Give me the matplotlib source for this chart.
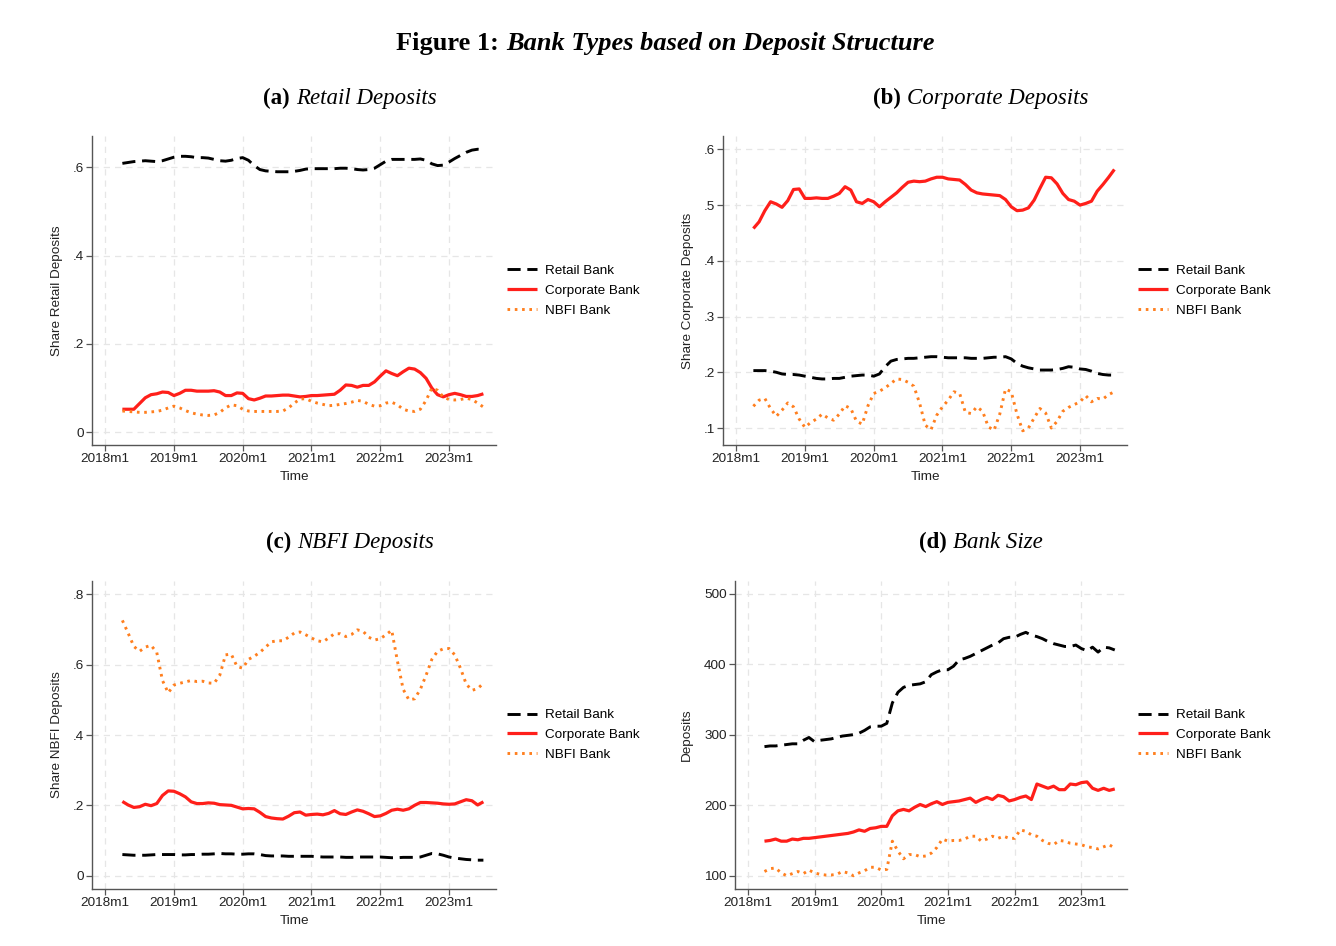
import matplotlib
matplotlib.use("Agg")
import matplotlib.pyplot as plt
import numpy as np

# months since 2018m1, data runs 2018m4 .. 2023m7
months = np.arange(3, 67)
tick_pos = [0, 12, 24, 36, 48, 60]
tick_lab = ["2018m1", "2019m1", "2020m1", "2021m1", "2022m1", "2023m1"]
series_names = ["Retail Bank", "Corporate Bank", "NBFI Bank"]

# (a) share retail deposits
retail_a = [.609, .611, .613, .614, .615, .614, .613, .615, .619,
            .623, .625, .625, .624, .622, .622, .621, .618, .615, .614, .616, .620,
            .622, .616, .604, .595, .592, .591, .590, .590, .590, .591, .593, .596,
            .597, .597, .597, .597, .597, .598, .598, .597, .595, .594, .595, .598,
            .606, .614, .618, .618, .618, .618, .618, .619, .616, .608, .604, .605,
            .612, .620, .627, .634, .639, .641, .640]
corp_a = [.052, .052, .052, .065, .078, .085, .087, .091, .090,
          .083, .088, .095, .095, .093, .093, .093, .094, .091, .083, .083, .089,
          .088, .076, .073, .077, .082, .082, .083, .084, .084, .082, .080, .081,
          .083, .083, .084, .085, .086, .095, .107, .106, .102, .106, .106, .114,
          .127, .139, .133, .128, .137, .145, .143, .135, .122, .100, .085, .080,
          .085, .088, .085, .081, .081, .083, .087]
nbfi_a = [.048, .047, .046, .045, .045, .046, .047, .050, .055,
          .059, .055, .049, .044, .041, .039, .038, .039, .045, .055, .062, .060,
          .052, .048, .047, .047, .047, .047, .047, .048, .055, .066, .075, .076,
          .070, .066, .063, .060, .061, .063, .065, .068, .072, .070, .063, .059,
          .060, .066, .068, .062, .052, .048, .047, .052, .072, .100, .095, .080,
          .074, .073, .074, .077, .074, .066, .057]

# (b) share corporate deposits
retail_b = [.203, .203, .203, .202, .200, .197, .196, .196, .195,
            .193, .191, .189, .188, .188, .189, .189, .191, .193, .194, .195, .195,
            .193, .197, .210, .220, .223, .224, .225, .225, .226, .227, .228, .228,
            .227, .226, .226, .226, .226, .225, .225, .225, .226, .227, .227, .228,
            .224, .216, .211, .208, .206, .204, .204, .204, .205, .207, .210, .209,
            .206, .205, .202, .198, .196, .195, .195]
corp_b = [.458, .470, .490, .506, .502, .496, .508, .528, .529,
          .512, .512, .513, .512, .512, .516, .521, .533, .527, .506, .503, .510,
          .506, .497, .506, .514, .522, .532, .541, .543, .542, .543, .547, .550,
          .550, .547, .546, .545, .537, .527, .522, .520, .519, .518, .517, .510,
          .497, .490, .491, .495, .509, .530, .550, .549, .538, .521, .510, .507,
          .500, .503, .507, .525, .537, .550, .564]
nbfi_b = [.139, .150, .153, .135, .121, .132, .145, .138, .116,
          .101, .110, .116, .125, .118, .114, .125, .140, .135, .112, .107, .140,
          .162, .166, .172, .180, .188, .187, .182, .175, .145, .105, .097, .123,
          .138, .150, .165, .162, .128, .126, .138, .130, .102, .096, .125, .170,
          .165, .125, .095, .100, .118, .135, .127, .100, .112, .130, .137, .142,
          .147, .158, .147, .153, .152, .160, .165]

# (c) share NBFI deposits
retail_c = [.060, .059, .058, .058, .058, .059, .060, .060, .060,
            .060, .059, .059, .060, .060, .061, .061, .062, .063, .062, .062, .061,
            .061, .062, .062, .060, .057, .056, .056, .056, .055, .055, .055, .055,
            .055, .054, .053, .053, .053, .053, .052, .052, .053, .053, .053, .053,
            .053, .052, .051, .051, .052, .052, .052, .053, .058, .063, .062, .058,
            .053, .050, .048, .046, .045, .044, .044]
corp_c = [.211, .201, .194, .196, .203, .199, .205, .228, .241,
          .240, .233, .224, .210, .205, .205, .207, .206, .202, .201, .200, .195,
          .190, .191, .190, .180, .168, .164, .162, .161, .169, .179, .181, .172,
          .174, .175, .173, .177, .185, .176, .174, .181, .187, .183, .176, .168,
          .170, .177, .186, .189, .186, .190, .200, .208, .208, .207, .206, .204,
          .203, .204, .210, .216, .213, .201, .210]
nbfi_c = [.726, .690, .652, .638, .650, .655, .635, .555, .520,
          .542, .547, .551, .555, .552, .553, .548, .547, .570, .628, .630, .595,
          .590, .615, .624, .635, .650, .665, .668, .668, .678, .690, .693, .685,
          .676, .668, .665, .676, .688, .688, .680, .686, .699, .695, .678, .670,
          .674, .685, .698, .610, .530, .500, .503, .530, .570, .615, .638, .645,
          .646, .628, .590, .545, .527, .532, .547]

# (d) bank size, deposits
retail_d = [283, 284, 284, 285, 286, 287, 287, 292, 296,
            290, 292, 293, 294, 296, 298, 299, 300, 302, 306, 311, 312,
            312, 316, 345, 360, 367, 370, 371, 372, 375, 385, 389, 392,
            392, 397, 406, 408, 411, 415, 419, 423, 427, 430, 436, 438,
            438, 442, 445, 441, 439, 436, 432, 429, 427, 425, 425, 427,
            422, 419, 424, 417, 424, 423, 420]
corp_d = [149, 150, 152, 149, 149, 152, 151, 153, 153,
          154, 155, 156, 157, 158, 159, 160, 162, 165, 163, 167, 168,
          170, 170, 185, 192, 194, 192, 197, 201, 198, 202, 205, 201,
          204, 205, 206, 208, 210, 204, 208, 211, 208, 214, 212, 206,
          208, 211, 213, 208, 230, 227, 224, 227, 222, 222, 230, 229,
          232, 233, 224, 221, 224, 221, 223]
nbfi_d = [106, 110, 111, 104, 100, 103, 106, 103, 108,
          104, 102, 101, 101, 102, 106, 104, 100, 104, 107, 112, 112,
          108, 109, 149, 135, 124, 130, 130, 127, 128, 132, 140, 152,
          149, 150, 150, 152, 156, 156, 149, 152, 156, 153, 156, 153,
          153, 165, 163, 158, 156, 150, 146, 144, 150, 149, 146, 145,
          144, 141, 140, 138, 141, 144, 139]

W, H = 1336, 946
fig = plt.figure(figsize=(W / 100, H / 100), dpi=100)

sans = "Liberation Sans"
serif = "Liberation Serif"
grey = "#555555"
fs = 9.7

styles = [dict(color="black", lw=2.1, dashes=(4.5, 2.3)),
          dict(color="#ff1f1a", lw=2.3, ls="-"),
          dict(color="#ff7f1e", lw=2.1, ls=(0, (0.9, 1.6)))]

panels = [
    # left, top, right, bottom in pixels, data, ylabel, yticks, ytick labels, ylim
    ((92, 136, 496, 445), (retail_a, corp_a, nbfi_a), "Share Retail Deposits",
     [0, .2, .4, .6], ["0", ".2", ".4", ".6"], (-0.029, 0.671), -0.087),
    ((723, 136, 1127, 445), (retail_b, corp_b, nbfi_b), "Share Corporate Deposits",
     [.1, .2, .3, .4, .5, .6], [".1", ".2", ".3", ".4", ".5", ".6"], (0.0695, 0.624), -0.087),
    ((92, 581, 496, 889), (retail_c, corp_c, nbfi_c), "Share NBFI Deposits",
     [0, .2, .4, .6, .8], ["0", ".2", ".4", ".6", ".8"], (-0.038, 0.838), -0.087),
    ((735, 581, 1127, 889), (retail_d, corp_d, nbfi_d), "Deposits",
     [100, 200, 300, 400, 500], ["100", "200", "300", "400", "500"], (81.2, 517.8), -0.122),
]

for (l, t, r, b), data, ylab, yt, ytl, ylim, ylx in panels:
    ax = fig.add_axes([l / W, 1 - b / H, (r - l) / W, (b - t) / H])
    for vals, name, st in zip(data, series_names, styles):
        ax.plot(months, vals, label=name, solid_capstyle="butt", dash_capstyle="butt", **st)
    ax.set_xlim(-2.3, 68.2)
    ax.set_ylim(*ylim)
    ax.set_xticks(tick_pos)
    ax.set_xticklabels(tick_lab)
    ax.set_yticks(yt)
    ax.set_yticklabels(ytl)
    ax.grid(True, color="#e6e6e6", ls=(0, (5, 4)), lw=0.9)
    ax.set_axisbelow(True)
    for s in ["top", "right"]:
        ax.spines[s].set_visible(False)
    for s in ["left", "bottom"]:
        ax.spines[s].set_color(grey)
        ax.spines[s].set_linewidth(1.0)
    ax.tick_params(colors=grey, labelcolor="#222222", length=4, width=0.9, pad=2,
                   labelsize=fs)
    for lab in ax.get_xticklabels() + ax.get_yticklabels():
        lab.set_family(sans)
    ax.set_xlabel("Time", family=sans, fontsize=fs, va="center", color="#222222")
    ax.xaxis.set_label_coords(0.5, -0.104)
    ax.set_ylabel(ylab, family=sans, fontsize=fs, va="center", color="#222222")
    ax.yaxis.set_label_coords(ylx, 0.5)
    ax.legend(loc="center left", bbox_to_anchor=(1 + 11 / (r - l), 0.5), frameon=False,
              prop={"family": sans, "size": fs}, handlelength=2.2, handletextpad=0.6,
              labelspacing=0.55, borderpad=0, borderaxespad=0)


def mixed_text(xc, y, parts, size, gap=0.28):
    # place several differently styled pieces on one centred line
    items = [fig.text(0, 1 - y / H, s, fontsize=size, family=serif, fontweight=w,
                      fontstyle=st, va="baseline", ha="left", color="black")
             for s, w, st in parts]
    fig.canvas.draw()
    rend = fig.canvas.get_renderer()
    widths = [it.get_window_extent(rend).width for it in items]
    space = gap * size * 100 / 72
    total = sum(widths) + space * (len(items) - 1)
    x = xc - total / 2
    for it, w in zip(items, widths):
        it.set_x(x / W)
        x += w + space


mixed_text(665, 50, [("Figure 1:", "bold", "normal"),
                     ("Bank Types based on Deposit Structure", "bold", "italic")], 19)
mixed_text(350, 104, [("(a)", "bold", "normal"), ("Retail Deposits", "normal", "italic")], 16.5)
mixed_text(981, 104, [("(b)", "bold", "normal"), ("Corporate Deposits", "normal", "italic")], 16.5)
mixed_text(350, 548, [("(c)", "bold", "normal"), ("NBFI Deposits", "normal", "italic")], 16.5)
mixed_text(981, 548, [("(d)", "bold", "normal"), ("Bank Size", "normal", "italic")], 16.5)

fig.savefig("out.png", dpi=100)
